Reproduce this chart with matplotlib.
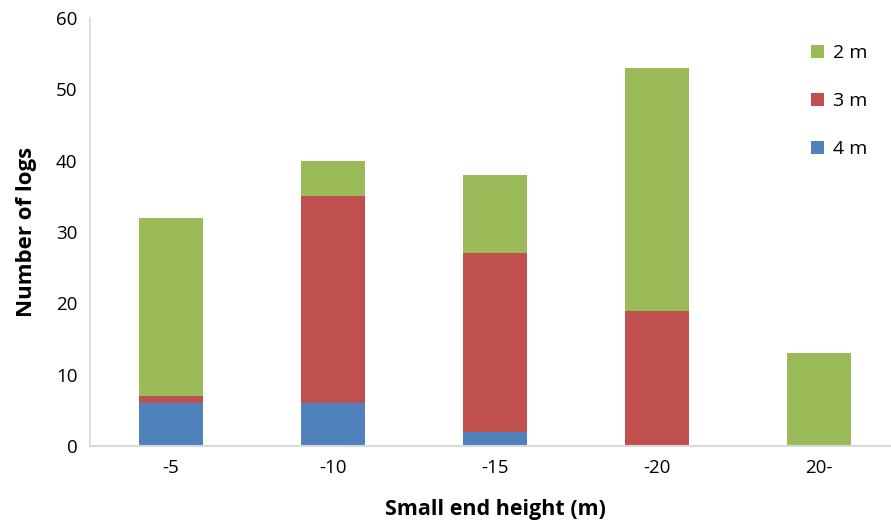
import numpy as np
import matplotlib.pyplot as plt

plt.rcParams["font.family"] = ["Open Sans", "DejaVu Sans"]

categories = ["-5", "-10", "-15", "-20", "20-"]
logs_4m = [6, 6, 2, 0, 0]
logs_3m = [1, 29, 25, 19, 0]
logs_2m = [25, 5, 11, 34, 13]

BLUE = "#4F81BD"
RED = "#C0504D"
GREEN = "#9BBB59"
AXIS = "#D9D9D9"

fig = plt.figure(figsize=(8.91, 5.31), dpi=100)
# plot area runs a little past the right edge, as in the original
ax = fig.add_axes([0.101, 0.160, 0.909, 0.806])

x = np.arange(len(categories))
w = 0.40
b4 = np.array(logs_4m)
b3 = b4 + np.array(logs_3m)

h4 = ax.bar(x, logs_4m, w, color=BLUE, label="4 m")
h3 = ax.bar(x, logs_3m, w, bottom=b4, color=RED, label="3 m")
h2 = ax.bar(x, logs_2m, w, bottom=b3, color=GREEN, label="2 m")

ax.set_xlim(-0.5, len(categories) - 0.5)
ax.set_ylim(0, 60)
ax.set_yticks(range(0, 61, 10))
ax.set_xticks(x)
ax.set_xticklabels(categories)

for side in ["top", "right"]:
    ax.spines[side].set_visible(False)
ax.spines["left"].set_color(AXIS)
ax.spines["bottom"].set_color(AXIS)
ax.spines["left"].set_linewidth(1.2)
ax.spines["bottom"].set_linewidth(1.5)
ax.tick_params(length=0, labelsize=13.5, colors="#000000", pad=9)

ax.set_xlabel("Small end height (m)", fontsize=15.5, fontweight="bold", labelpad=16)
ax.set_ylabel("Number of logs", fontsize=16, fontweight="bold", labelpad=14)

ax.legend([h2, h3, h4], ["2 m", "3 m", "4 m"], frameon=False, fontsize=14,
          loc="upper right", bbox_to_anchor=(0.982, 0.98),
          handlelength=0.65, handleheight=0.65, handletextpad=0.5,
          labelspacing=1.55)

fig.savefig("out.png", dpi=100)
